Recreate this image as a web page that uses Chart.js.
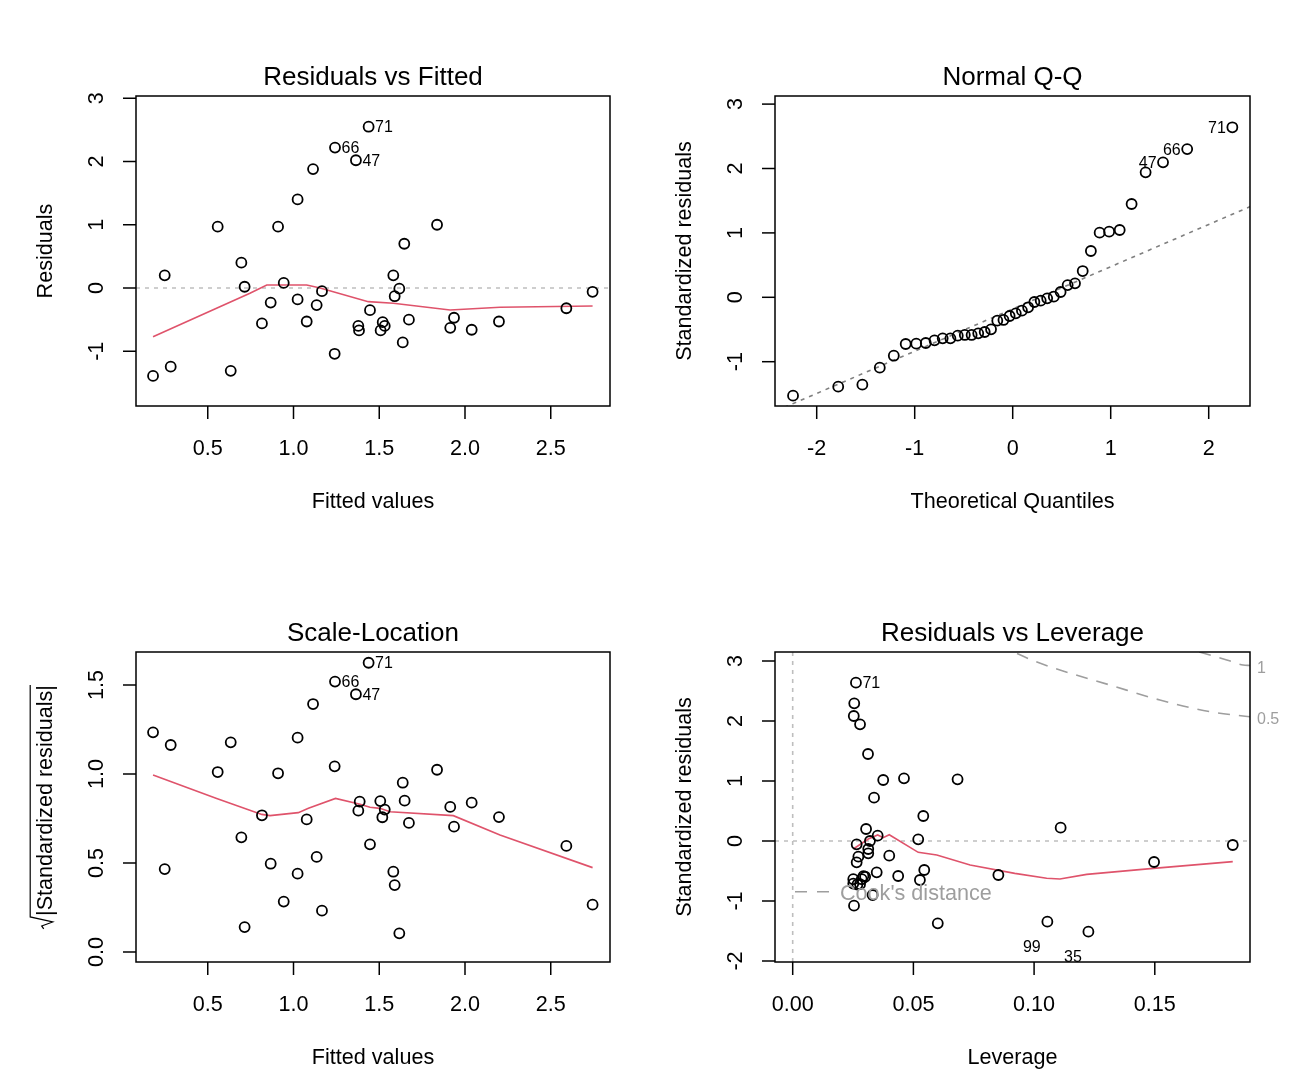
<!DOCTYPE html>
<html>
<head>
<meta charset="utf-8">
<title>lm diagnostics</title>
<script src="https://cdn.jsdelivr.net/npm/chart.js@4.4.1/dist/chart.umd.min.js"></script>
<style>
  body { margin: 0; background: #fff; }
  #wrap { position: relative; width: 1316px; height: 1090px; }
  canvas { position: absolute; }
</style>
</head>
<body>
<div id="wrap">
  <canvas id="p1" width="658" height="545" style="left:0;top:0"></canvas>
  <canvas id="p2" width="658" height="545" style="left:658px;top:0"></canvas>
  <canvas id="p3" width="658" height="545" style="left:0;top:545px"></canvas>
  <canvas id="p4" width="658" height="545" style="left:658px;top:545px"></canvas>
</div>
<script>
// ---- Residuals vs Fitted ----
const fitted1 = [0.181, 0.284, 0.249, 0.558, 0.634, 0.696, 0.715, 0.816, 0.867, 0.910, 0.943, 1.024, 1.024, 1.077, 1.114, 1.135, 1.166, 1.240, 1.242, 1.364, 1.438, 1.378, 1.382, 1.446,
  1.520, 1.508, 1.532, 1.673, 1.637, 1.582, 1.617, 1.590, 1.646, 1.837, 1.936, 1.914, 2.039, 2.198, 2.591, 2.744];
const resid1 = [-1.39, -1.244, 0.20, 0.97, -1.31, 0.40, 0.02, -0.56, -0.23, 0.97, 0.08, 1.40, -0.18, -0.53, 1.88, -0.27, -0.05, -1.04, 2.22, 2.02, 2.55, -0.60, -0.67, -0.35,
  -0.54, -0.67, -0.60, -0.50, -0.86, 0.20, -0.01, -0.13, 0.70, 1.00, -0.47, -0.63, -0.66, -0.53, -0.32, -0.06];
const smoothX1 = [0.181, 0.746, 0.844, 1.077, 1.155, 1.436, 1.582, 1.913, 2.204, 2.744];
const smoothY1 = [-0.77, -0.084, 0.047, 0.047, 0.0, -0.216, -0.242, -0.348, -0.305, -0.285];
const labelIdx1 = [20, 18, 19];
const labelText1 = ['71', '66', '47'];

// ---- Normal Q-Q ----
const qqX = [-2.2414, -1.7805, -1.5341, -1.3563, -1.2133, -1.0918, -0.9842, -0.8871, -0.7978, -0.7144, -0.6357, -0.5607, -0.4888, -0.4193, -0.3518, -0.2858, -0.2211, -0.1573, -0.0942, -0.0313,
  0.0313, 0.0942, 0.1573, 0.2211, 0.2858, 0.3518, 0.4193, 0.4888, 0.5607, 0.6357, 0.7144, 0.7978, 0.8871, 0.9842, 1.0918, 1.2133, 1.3563, 1.5341, 1.7805, 2.2414];
const qqY = [-1.528, -1.388, -1.357, -1.093, -0.907, -0.725, -0.72, -0.71, -0.668, -0.637, -0.637, -0.596, -0.585, -0.585, -0.559, -0.539, -0.497, -0.363, -0.352, -0.290,
  -0.249, -0.208, -0.155, -0.073, -0.052, -0.016, 0.01, 0.082, 0.19, 0.217, 0.408, 0.719, 1.004, 1.019, 1.045, 1.449, 1.941, 2.096, 2.302, 2.640];
const qqLineX = [-2.5, 2.5];
const qqLineY = [-1.821, 1.459];
const labelIdx2 = [39, 38, 37];
const labelText2 = ['71', '66', '47'];

// ---- Scale-Location ----
const fitted3 = [0.181, 0.284, 0.249, 0.558, 0.634, 0.696, 0.715, 0.816, 0.867, 0.910, 0.943, 1.024, 1.024, 1.077, 1.114, 1.135, 1.166, 1.240, 1.242, 1.364, 1.438, 1.378, 1.386, 1.446,
  1.506, 1.532, 1.518, 1.673, 1.637, 1.648, 1.582, 1.590, 1.617, 1.837, 1.914, 1.936, 2.039, 2.198, 2.591, 2.744];
const sqrtStd3 = [1.234, 1.163, 0.466, 1.011, 1.178, 0.644, 0.140, 0.768, 0.496, 1.004, 0.283, 1.204, 0.440, 0.745, 1.393, 0.534, 0.232, 1.043, 1.519, 1.448, 1.625, 0.794, 0.845, 0.605,
  0.848, 0.800, 0.757, 0.725, 0.951, 0.850, 0.451, 0.376, 0.105, 1.024, 0.815, 0.704, 0.839, 0.758, 0.596, 0.266];
const smoothX3 = [0.181, 0.552, 0.815, 0.863, 1.028, 1.087, 1.245, 1.388, 1.446, 1.504, 1.563, 1.932, 2.204, 2.744];
const smoothY3 = [0.994, 0.863, 0.773, 0.766, 0.783, 0.807, 0.863, 0.830, 0.813, 0.807, 0.788, 0.766, 0.657, 0.474];
const labelIdx3 = [20, 18, 19];
const labelText3 = ['71', '66', '47'];

// ---- Residuals vs Leverage ----
const lev4 = [0.0262, 0.0255, 0.0253, 0.0279, 0.0312, 0.0375, 0.0461, 0.0683, 0.0337, 0.0541, 0.0304, 0.0352, 0.0320, 0.0265, 0.0520, 0.0313, 0.0313, 0.0272, 0.0265, 0.0400, 0.0545, 0.0527, 0.0437, 0.0348,
  0.0293, 0.0300, 0.0286, 0.0251, 0.0251, 0.0279, 0.0268, 0.0331, 0.0254, 0.0852, 0.0601, 0.1055, 0.1225, 0.1110, 0.1497, 0.1823];
const std4 = [2.639, 2.294, 2.083, 1.944, 1.45, 1.017, 1.044, 1.028, 0.722, 0.417, 0.2, 0.089, 0.0, -0.055, 0.028, -0.133, -0.205, -0.261, -0.355, -0.245, -0.483, -0.65, -0.583, -0.522,
  -0.585, -0.596, -0.637, -0.637, -0.71, -0.72, -0.725, -0.9, -1.078, -0.567, -1.372, -1.344, -1.511, 0.222, -0.35, -0.067];
const smoothX4 = [0.0251, 0.0313, 0.0352, 0.0375, 0.0400, 0.0520, 0.0597, 0.0735, 0.0920, 0.1052, 0.1107, 0.1218, 0.1494, 0.1823];
const smoothY4 = [-0.133, 0.033, 0.10, 0.055, 0.105, -0.189, -0.233, -0.40, -0.54, -0.622, -0.633, -0.556, -0.456, -0.344];
const cookHalfX = [0.085, 0.0916, 0.100, 0.1107, 0.1314, 0.1521, 0.1728, 0.1895];
const cookHalfY = [3.27, 3.15, 3.00, 2.85, 2.60, 2.35, 2.155, 2.07];
const cookOneX = [0.160, 0.168, 0.1798, 0.1866, 0.1895];
const cookOneY = [3.24, 3.155, 3.017, 2.933, 2.925];
const cookLevels = ['0.5', '1'];
const labelIdx4 = [0, 35, 36];
const labelText4 = ['71', '99', '35'];

const FONT = '"Liberation Sans", Arial, Helvetica, sans-serif';
const RED = '#DF536B';
const COOK = '#9E9E9E';

const pts = (xs, ys) => xs.map((x, i) => ({ x, y: ys[i] }));

const pointSet = data => ({
  data, showLine: false, pointRadius: 5, pointBorderWidth: 1.8,
  pointBorderColor: '#000', pointBackgroundColor: 'rgba(0,0,0,0)'
});
const lineSet = (data, color, dash, width, extra) => Object.assign({
  data, showLine: true, pointRadius: 0, borderColor: color,
  borderWidth: width || 1.6, borderDash: dash || [], tension: 0
}, extra || {});

// draws the R style box, ticks, titles and point ids
const rFrame = {
  id: 'rFrame',
  afterDraw(chart, args, o) {
    const { ctx, chartArea: a } = chart;
    const sx = chart.scales.x, sy = chart.scales.y;
    const cx = (a.left + a.right) / 2, cy = (a.top + a.bottom) / 2;
    ctx.save();
    ctx.setLineDash([]);
    ctx.strokeStyle = '#000';
    ctx.fillStyle = '#000';
    ctx.lineWidth = 1.5;
    ctx.strokeRect(a.left, a.top, a.right - a.left, a.bottom - a.top);

    ctx.font = '21.6px ' + FONT;
    ctx.textBaseline = 'alphabetic';
    ctx.textAlign = 'center';
    o.xTicks.forEach((v, i) => {
      const px = sx.getPixelForValue(v);
      ctx.beginPath(); ctx.moveTo(px, a.bottom); ctx.lineTo(px, a.bottom + 13); ctx.stroke();
      ctx.fillText(o.xLabels[i], px, a.bottom + 49);
    });
    o.yTicks.forEach((v, i) => {
      const py = sy.getPixelForValue(v);
      ctx.beginPath(); ctx.moveTo(a.left, py); ctx.lineTo(a.left - 13, py); ctx.stroke();
      ctx.save();
      ctx.translate(a.left - 32.7, py);
      ctx.rotate(-Math.PI / 2);
      ctx.fillText(o.yLabels[i], 0, 0);
      ctx.restore();
    });

    ctx.fillText(o.xTitle, cx, a.bottom + 102);
    ctx.save();
    ctx.translate(a.left - 84.3, cy);
    ctx.rotate(-Math.PI / 2);
    if (o.sqrtTitle) {
      const w = ctx.measureText(o.yTitle).width;
      const rad = 13;
      const s = -(w + rad) / 2;
      ctx.textAlign = 'left';
      ctx.fillText(o.yTitle, s + rad, 0);
      ctx.lineWidth = 1.2;
      ctx.beginPath();
      ctx.moveTo(s, -8); ctx.lineTo(s + 3, -10); ctx.lineTo(s + 7, 1);
      ctx.lineTo(s + 12, -21.5); ctx.lineTo(s + rad + w, -21.5);
      ctx.stroke();
    } else {
      ctx.fillText(o.yTitle, 0, 0);
    }
    ctx.restore();

    ctx.font = '26px ' + FONT;
    ctx.fillText(o.title, cx, a.top - 11.5);

    // ids of the flagged points
    const data = chart.data.datasets[0].data;
    ctx.font = '16px ' + FONT;
    o.labelIdx.forEach((k, i) => {
      const px = sx.getPixelForValue(data[k].x), py = sy.getPixelForValue(data[k].y);
      const pos = o.labelPos[i];
      if (pos === 'right') {
        ctx.textAlign = 'left'; ctx.fillText(o.labelText[i], px + 6.5, py + 5.7);
      } else if (pos === 'left') {
        ctx.textAlign = 'right'; ctx.fillText(o.labelText[i], px - 6.5, py + 5.7);
      } else {
        ctx.textAlign = 'center'; ctx.fillText(o.labelText[i], px - 15.5, py + 30.5);
      }
    });
    ctx.restore();
  }
};

// Cook's distance level labels and legend
const cookExtras = {
  id: 'cookExtras',
  afterDraw(chart) {
    const { ctx, chartArea: a } = chart;
    const sy = chart.scales.y;
    ctx.save();
    ctx.fillStyle = COOK;
    ctx.strokeStyle = COOK;
    ctx.font = '16px ' + FONT;
    ctx.textAlign = 'left';
    ctx.textBaseline = 'alphabetic';
    const ends = [cookHalfY[cookHalfY.length - 1], cookOneY[cookOneY.length - 1]];
    cookLevels.forEach((t, i) => {
      ctx.fillText(t, a.right + 7, sy.getPixelForValue(ends[i]) + 7.3);
    });
    ctx.lineWidth = 1.6;
    ctx.setLineDash([12, 10]);
    ctx.beginPath();
    ctx.moveTo(a.left + 20, a.bottom - 70.3);
    ctx.lineTo(a.left + 64, a.bottom - 70.3);
    ctx.stroke();
    ctx.font = '21.6px ' + FONT;
    ctx.fillText("Cook's distance", a.left + 65, a.bottom - 62);
    ctx.restore();
  }
};

function makeChart(id, datasets, box, scales, frame, extraPlugins) {
  return new Chart(document.getElementById(id), {
    type: 'scatter',
    data: { datasets },
    options: {
      responsive: false,
      animation: false,
      events: [],
      layout: { padding: box },
      scales: {
        x: { type: 'linear', min: scales.xmin, max: scales.xmax, bounds: 'data', display: false },
        y: { type: 'linear', min: scales.ymin, max: scales.ymax, bounds: 'data', display: false }
      },
      plugins: { legend: { display: false }, tooltip: { enabled: false }, rFrame: frame }
    },
    plugins: [rFrame].concat(extraPlugins || [])
  });
}

const boxLeftTop = { left: 136, right: 48, top: 96, bottom: 139 };
const boxRightTop = { left: 117, right: 66, top: 96, bottom: 139 };
const boxLeftBottom = { left: 136, right: 48, top: 107, bottom: 128 };
const boxRightBottom = { left: 117, right: 66, top: 107, bottom: 128 };

const fitScale = { xmin: 0.0816, xmax: 2.8455 };

makeChart('p1', [
  pointSet(pts(fitted1, resid1)),
  lineSet(pts(smoothX1, smoothY1), RED),
  lineSet(pts([fitScale.xmin, fitScale.xmax], [0, 0]), '#BEBEBE', [4, 5])
], boxLeftTop, { ...fitScale, ymin: -1.8656, ymax: 3.0356 }, {
  title: 'Residuals vs Fitted', xTitle: 'Fitted values', yTitle: 'Residuals',
  xTicks: [0.5, 1, 1.5, 2, 2.5], xLabels: ['0.5', '1.0', '1.5', '2.0', '2.5'],
  yTicks: [-1, 0, 1, 2, 3], yLabels: ['-1', '0', '1', '2', '3'],
  labelIdx: labelIdx1, labelText: labelText1, labelPos: ['right', 'right', 'right']
});

makeChart('p2', [
  pointSet(pts(qqX, qqY)),
  lineSet(pts(qqLineX, qqLineY), '#7F7F7F', [4, 5])
], boxRightTop, { xmin: -2.4255, xmax: 2.4214, ymin: -1.6879, ymax: 3.1258 }, {
  title: 'Normal Q-Q', xTitle: 'Theoretical Quantiles', yTitle: 'Standardized residuals',
  xTicks: [-2, -1, 0, 1, 2], xLabels: ['-2', '-1', '0', '1', '2'],
  yTicks: [-1, 0, 1, 2, 3], yLabels: ['-1', '0', '1', '2', '3'],
  labelIdx: labelIdx2, labelText: labelText2, labelPos: ['left', 'left', 'left']
});

makeChart('p3', [
  pointSet(pts(fitted3, sqrtStd3)),
  lineSet(pts(smoothX3, smoothY3), RED)
], boxLeftBottom, { ...fitScale, ymin: -0.0562, ymax: 1.6854 }, {
  title: 'Scale-Location', xTitle: 'Fitted values', yTitle: '|Standardized residuals|', sqrtTitle: true,
  xTicks: [0.5, 1, 1.5, 2, 2.5], xLabels: ['0.5', '1.0', '1.5', '2.0', '2.5'],
  yTicks: [0, 0.5, 1, 1.5], yLabels: ['0.0', '0.5', '1.0', '1.5'],
  labelIdx: labelIdx3, labelText: labelText3, labelPos: ['right', 'right', 'right']
});

const levScale = { xmin: -0.00733, xmax: 0.18944, ymin: -2.0167, ymax: 3.15 };
makeChart('p4', [
  pointSet(pts(lev4, std4)),
  lineSet(pts(smoothX4, smoothY4), RED),
  lineSet(pts(cookHalfX, cookHalfY), COOK, [12, 9], 1.6, { cubicInterpolationMode: 'monotone' }),
  lineSet(pts(cookOneX, cookOneY), COOK, [12, 9], 1.6, { cubicInterpolationMode: 'monotone' }),
  lineSet(pts([levScale.xmin, levScale.xmax], [0, 0]), '#BEBEBE', [4, 5]),
  lineSet(pts([0, 0], [levScale.ymin, levScale.ymax]), '#BEBEBE', [4, 5])
], boxRightBottom, levScale, {
  title: 'Residuals vs Leverage', xTitle: 'Leverage', yTitle: 'Standardized residuals',
  xTicks: [0, 0.05, 0.10, 0.15], xLabels: ['0.00', '0.05', '0.10', '0.15'],
  yTicks: [-2, -1, 0, 1, 2, 3], yLabels: ['-2', '-1', '0', '1', '2', '3'],
  labelIdx: labelIdx4, labelText: labelText4, labelPos: ['right', 'below', 'below']
}, [cookExtras]);
</script>
</body>
</html>
